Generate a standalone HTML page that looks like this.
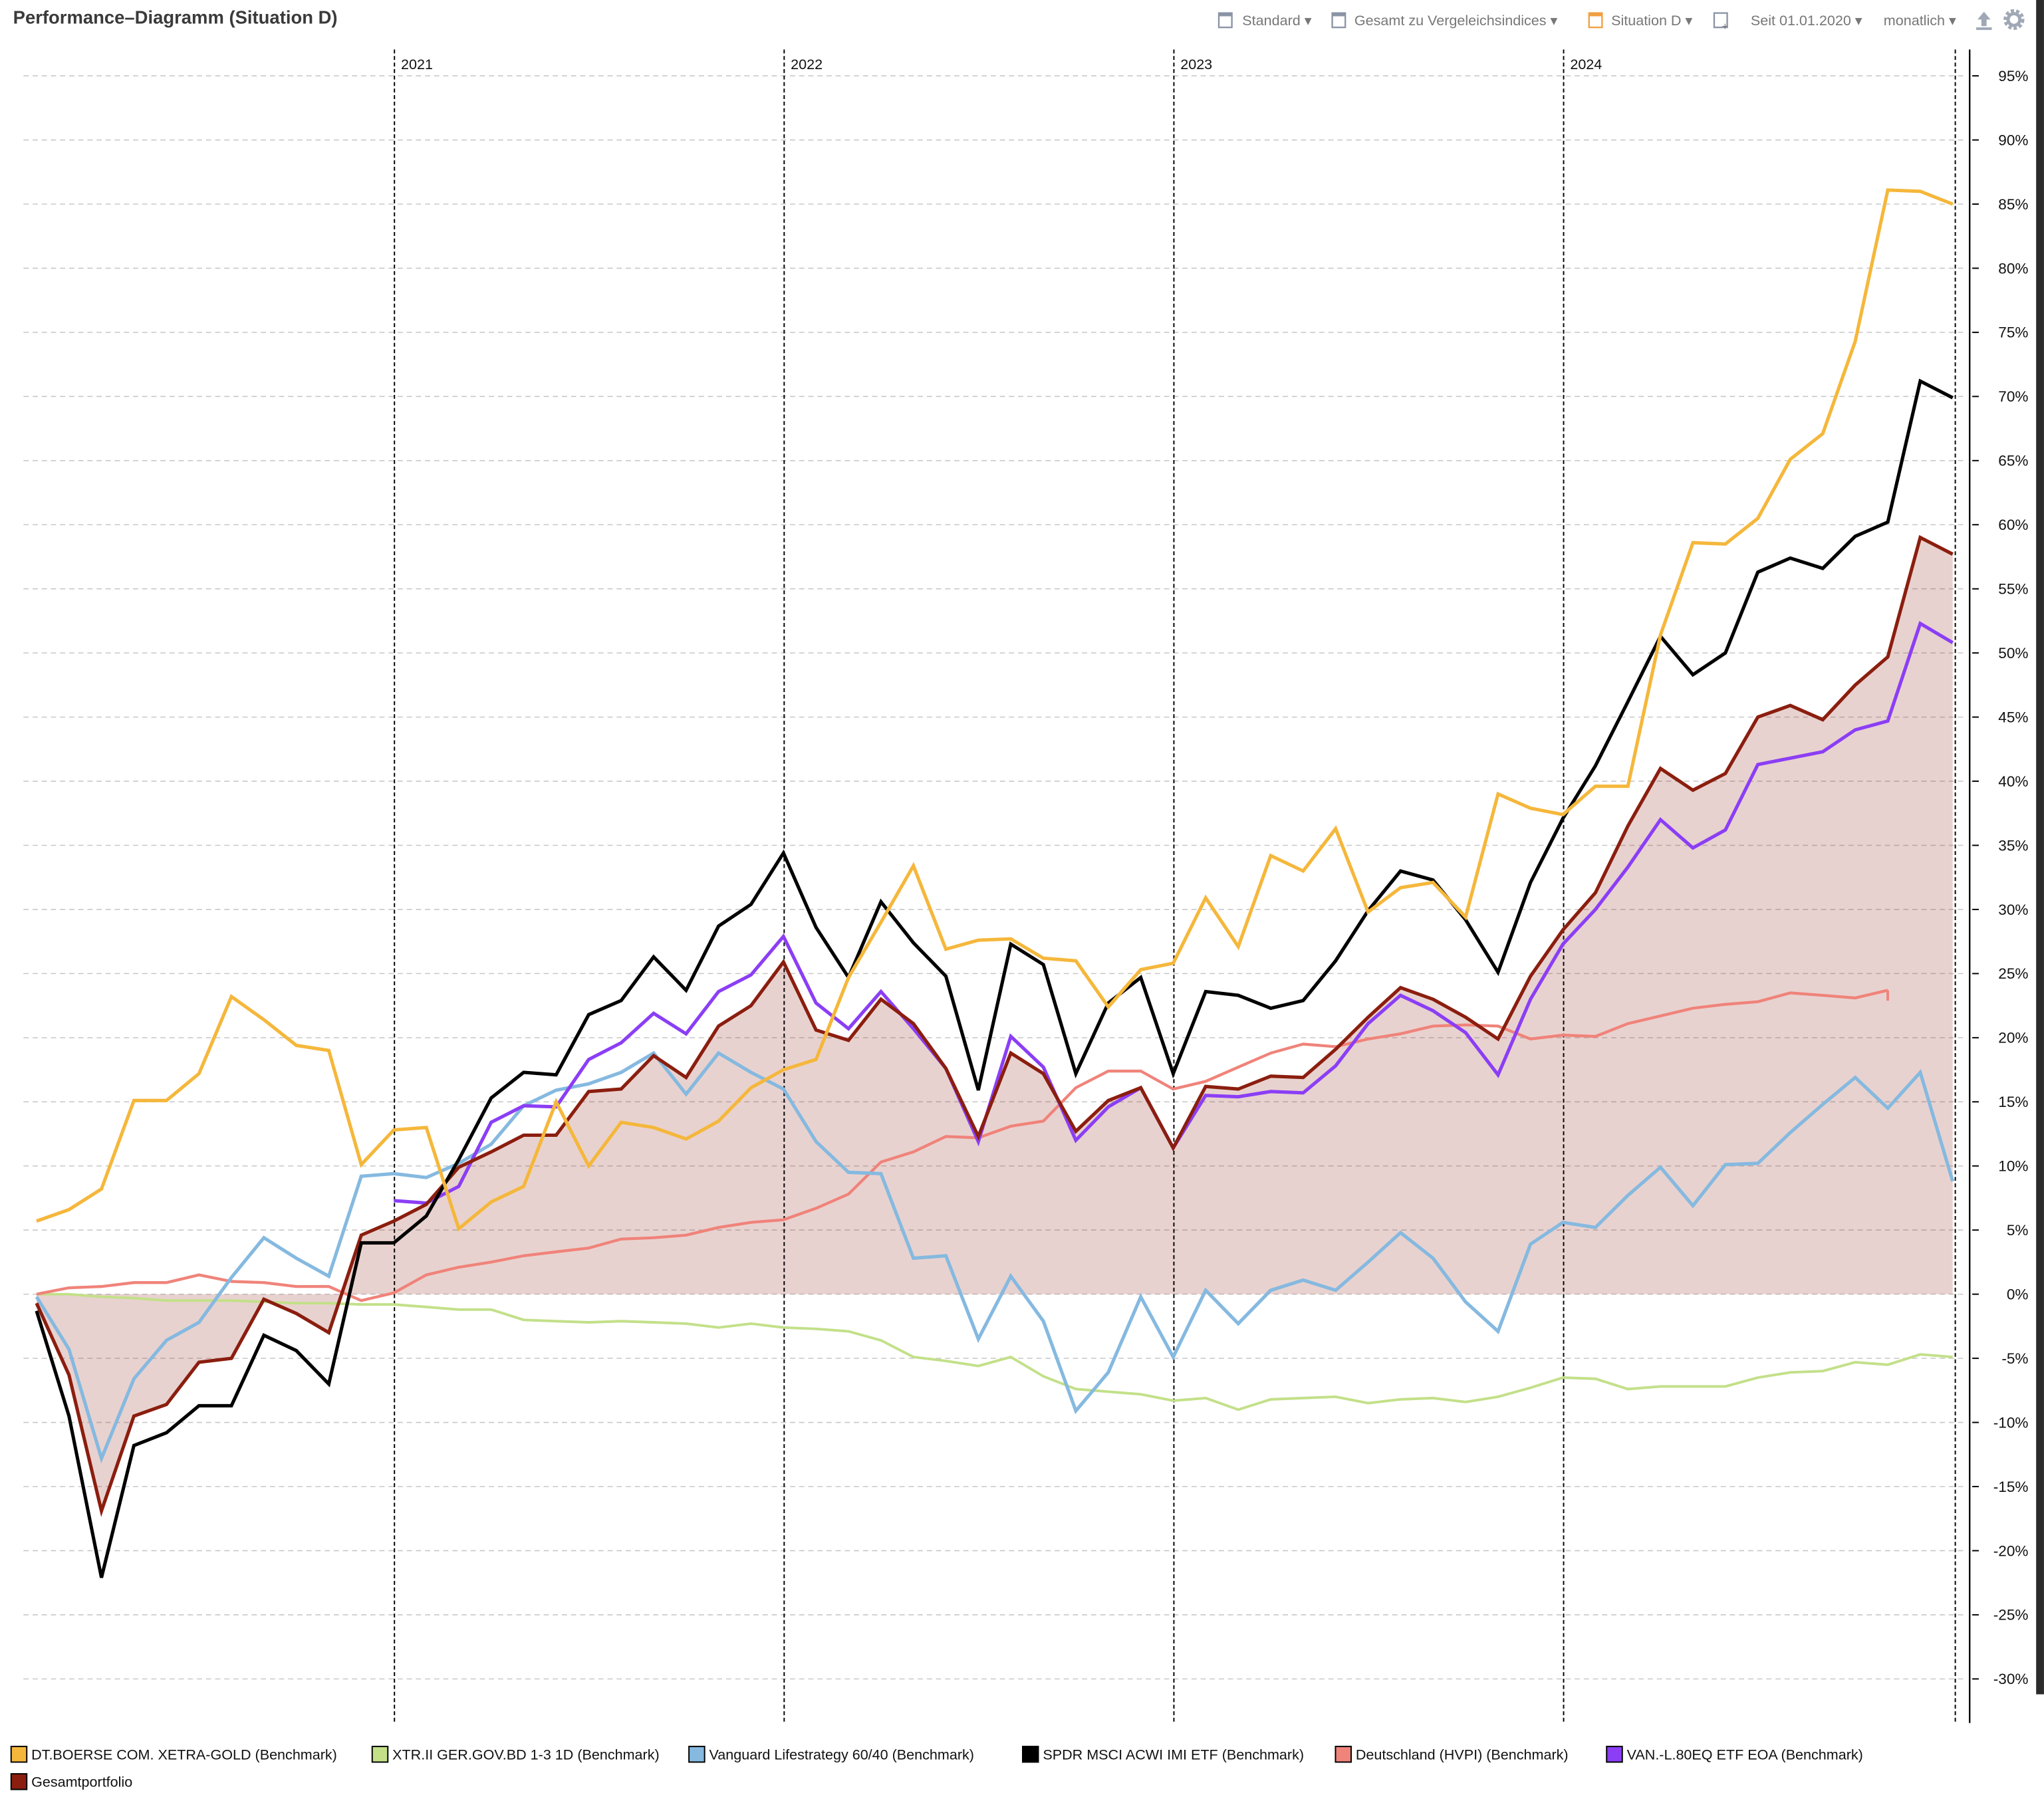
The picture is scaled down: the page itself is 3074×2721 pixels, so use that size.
<!DOCTYPE html>
<html><head><meta charset="utf-8"><style>
html,body{margin:0;padding:0;background:#fff;}
svg{display:block;font-family:"Liberation Sans",sans-serif;}
</style></head><body>
<svg id="chart" width="3074" height="2721" viewBox="0 0 1568 1388" xmlns="http://www.w3.org/2000/svg">
<rect x="1562" y="0" width="6" height="1300" fill="#2b2b2b"/>
<text x="10" y="18" font-size="14" font-weight="bold" fill="#3a3a3a">Performance–Diagramm (Situation D)</text>
<g font-size="11" fill="#777">
 <g><rect x="935" y="10" width="10" height="11" fill="none" stroke="#8a94a6" stroke-width="1.2"/><rect x="935" y="10" width="10" height="2.5" fill="#8a94a6"/><text x="953" y="19.5">Standard ▾</text></g>
 <g><rect x="1022" y="10" width="10" height="11" fill="none" stroke="#8a94a6" stroke-width="1.2"/><rect x="1022" y="10" width="10" height="2.5" fill="#8a94a6"/><text x="1039" y="19.5">Gesamt zu Vergeleichsindices ▾</text></g>
 <g><rect x="1219" y="10" width="10" height="11" fill="none" stroke="#f0a040" stroke-width="1.2"/><rect x="1219" y="10" width="10" height="2.5" fill="#f0a040"/><text x="1236" y="19.5">Situation D ▾</text></g>
 <g><rect x="1315" y="10" width="10" height="11" fill="none" stroke="#8a94a6" stroke-width="1.2"/><text x="1321" y="23" font-size="8">+</text></g>
 <text x="1343" y="19.5">Seit 01.01.2020 ▾</text>
 <text x="1445" y="19.5">monatlich ▾</text>
 <g><path d="M1517 15 l5 -6 l5 6 h-3 v5 h-4 v-5 z" fill="#a0a8b6"/><rect x="1516" y="21" width="12" height="2" fill="#a0a8b6"/></g>
 <g><circle cx="1545" cy="15" r="6" fill="none" stroke="#a0a8b6" stroke-width="4" stroke-dasharray="2.2 1.5"/><circle cx="1545" cy="15" r="4.5" fill="none" stroke="#a0a8b6" stroke-width="2.5"/></g>
</g>
<g id="grid"></g>
<g id="fill"></g>
<g id="years"></g>
<g id="series"></g>
<g id="axis"></g>
<g id="legend" font-size="11" fill="#111"></g>
<script>
const NS="http://www.w3.org/2000/svg";
const months=60;
const yTicks=[95,90,85,80,75,70,65,60,55,50,45,40,35,30,25,20,15,10,5,0,-5,-10,-15,-20,-25,-30];
const yearLabels=["2021","2022","2023","2024"];
const yearIndex=[11,23,35,47];
const gold=[5.7,6.6,8.2,15.1,15.1,17.2,23.2,21.4,19.4,19.0,10.1,12.8,13.0,5.1,7.2,8.4,15.0,10.0,13.4,13.0,12.1,13.5,16.1,17.5,18.3,24.7,29.0,33.4,26.9,27.6,27.7,26.2,26.0,22.4,25.3,25.8,30.9,27.1,34.2,33.0,36.3,29.8,31.7,32.1,29.4,39.0,37.9,37.4,39.6,39.6,51.4,58.6,58.5,60.5,65.1,67.1,74.3,86.1,86.0,85.0];
const bonds=[0,0,-0.2,-0.3,-0.5,-0.5,-0.5,-0.6,-0.7,-0.7,-0.8,-0.8,-1.0,-1.2,-1.2,-2.0,-2.1,-2.2,-2.1,-2.2,-2.3,-2.6,-2.3,-2.6,-2.7,-2.9,-3.6,-4.9,-5.2,-5.6,-4.9,-6.4,-7.4,-7.6,-7.8,-8.3,-8.1,-9.0,-8.2,-8.1,-8.0,-8.5,-8.2,-8.1,-8.4,-8.0,-7.3,-6.5,-6.6,-7.4,-7.2,-7.2,-7.2,-6.5,-6.1,-6.0,-5.3,-5.5,-4.7,-4.9];
const vanguard=[-0.2,-4.3,-12.8,-6.6,-3.6,-2.2,1.3,4.4,2.8,1.4,9.2,9.4,9.1,10.2,11.7,14.7,15.9,16.4,17.3,18.8,15.6,18.8,17.3,16.0,11.9,9.5,9.4,2.8,3.0,-3.5,1.4,-2.1,-9.1,-6.1,-0.2,-4.9,0.3,-2.3,0.3,1.1,0.3,2.5,4.8,2.8,-0.6,-2.9,3.9,5.6,5.2,7.7,9.9,6.9,10.1,10.2,12.6,14.8,16.9,14.5,17.3,8.8];
const acwi=[-1.3,-9.5,-22.1,-11.8,-10.8,-8.7,-8.7,-3.2,-4.4,-7.0,4.0,4.0,6.1,10.5,15.3,17.3,17.1,21.8,22.9,26.3,23.7,28.7,30.4,34.4,28.6,24.7,30.6,27.4,24.8,15.9,27.3,25.7,17.2,22.7,24.7,17.2,23.6,23.3,22.3,22.9,26.0,29.9,33.0,32.3,29.2,25.1,32.1,37.1,41.2,46.2,51.3,48.3,50.0,56.3,57.4,56.6,59.1,60.2,71.2,69.9];
const hvpi=[0,0.5,0.6,0.9,0.9,1.5,1.0,0.9,0.6,0.6,-0.5,0.1,1.5,2.1,2.5,3.0,3.3,3.6,4.3,4.4,4.6,5.2,5.6,5.8,6.7,7.8,10.3,11.1,12.3,12.2,13.1,13.5,16.1,17.4,17.4,16.0,16.6,17.7,18.8,19.5,19.3,19.9,20.3,20.9,21.0,20.9,19.9,20.2,20.1,21.1,21.7,22.3,22.6,22.8,23.5,23.3,23.1,23.7,null,null];
const van80=[null,null,null,null,null,null,null,null,null,null,null,7.3,7.1,8.4,13.4,14.7,14.6,18.3,19.6,21.9,20.3,23.6,24.9,27.9,22.7,20.7,23.6,20.7,17.6,11.9,20.1,17.7,12.0,14.6,16.1,11.4,15.5,15.4,15.8,15.7,17.8,21.1,23.3,22.1,20.4,17.1,23.0,27.3,30.0,33.3,37.0,34.8,36.2,41.3,41.8,42.3,44.0,44.7,52.3,50.8];
const gesamt=[-0.7,-6.3,-16.9,-9.5,-8.6,-5.3,-5.0,-0.4,-1.5,-3.0,4.6,5.7,7.0,9.9,11.1,12.4,12.4,15.8,16.0,18.6,16.9,20.9,22.5,25.9,20.6,19.8,23.0,21.1,17.6,12.3,18.8,17.2,12.7,15.1,16.1,11.4,16.2,16.0,17.0,16.9,19.1,21.6,23.9,23.0,21.6,19.9,24.8,28.4,31.3,36.5,41.0,39.3,40.6,45.0,45.9,44.8,47.5,49.7,59.0,57.7];
const legendLabels=["DT.BOERSE COM. XETRA-GOLD (Benchmark)","XTR.II GER.GOV.BD 1-3 1D (Benchmark)","Vanguard Lifestrategy 60/40 (Benchmark)","SPDR MSCI ACWI IMI ETF (Benchmark)","Deutschland (HVPI) (Benchmark)","VAN.-L.80EQ ETF EOA (Benchmark)","Gesamtportfolio"];

const X0=28, DX=24.915, Y0=993, DY=9.84;
function xs(i){return X0+DX*i;}
function ys(v){return Y0-v*DY;}
function mk(tag,attrs,parent){const e=document.createElementNS(NS,tag);for(const k in attrs)e.setAttribute(k,attrs[k]);parent.appendChild(e);return e;}

const grid=document.getElementById('grid');
const axis=document.getElementById('axis');
yTicks.forEach(t=>{
  const l=mk('line',{x1:18,x2:1506,y1:ys(t),y2:ys(t),stroke:'#c8c8c8','stroke-width':0.8,'stroke-dasharray':'4 3'},grid);
  
  
  const tk=mk('line',{x1:1513,x2:1518,y1:ys(t),y2:ys(t),stroke:'#000','stroke-width':1},axis);
  
  
  const tx=mk('text',{x:1556,y:ys(t)+4,'font-size':11.5,'text-anchor':'end',fill:'#111'},axis);
  tx.textContent=t+'%';
  
  
});
const ax=mk('line',{x1:1511,x2:1511,y1:38,y2:1322,stroke:'#000','stroke-width':1.2},axis);



const years=document.getElementById('years');
yearIndex.forEach((ix,k)=>{
  const x=xs(ix)+0.5;
  const l=mk('line',{x1:x,x2:x,y1:38,y2:1322,stroke:'#000','stroke-width':1,'stroke-dasharray':'3 2'},years);
  
  
  const t=mk('text',{x:x+5,y:53,'font-size':11,fill:'#111'},years);
  t.textContent=yearLabels[k];
  
  
});
const endL=mk('line',{x1:xs(59)+2,x2:xs(59)+2,y1:38,y2:1322,stroke:'#000','stroke-width':1,'stroke-dasharray':'3 2'},years);



// fill
let fd='M'+xs(0)+','+ys(0);
gesamt.forEach((v,i)=>{fd+=' L'+xs(i)+','+ys(v);});
fd+=' L'+xs(59)+','+ys(0)+' Z';
const fillP=mk('path',{d:fd,fill:'rgba(139,30,15,0.2)'},document.getElementById('fill'));



function pathOf(arr){let d='',pen=false;arr.forEach((v,i)=>{if(v===null){pen=false;return;}d+=(pen?' L':' M')+xs(i).toFixed(1)+','+ys(v).toFixed(1);pen=true;});return d;}
const ser=document.getElementById('series');
const defs=[
 [bonds,'#c3e089',2,'bonds-line'],
 [hvpi,'#f0837a',2.2,'hvpi-line'],
 [vanguard,'#85b9e0',2.6,'vanguard-line'],
 [van80,'#8b3ef5',2.6,'van80-line'],
 [gesamt,'#8b1e0f',2.6,'gesamtportfolio-line'],
 [acwi,'#000000',2.6,'acwi-line'],
 [gold,'#f5b73b',2.6,'gold-line']
];
defs.forEach(d=>{
  const p=mk('path',{d:pathOf(d[0]),fill:'none',stroke:d[1],'stroke-width':d[2],'stroke-linejoin':'miter'},ser);
  
  
});
// HVPI end hook
const hk=mk('line',{x1:xs(57),x2:xs(57),y1:ys(hvpi[57]),y2:ys(hvpi[57])+8,stroke:'#f0837a','stroke-width':2},ser);



// legend
const legColors=['#f5b73b','#c3e089','#85b9e0','#000000','#f0837a','#8b3ef5','#8b1e0f'];
const legX=[8,285,528,784,1024,1232,8];
const legY=[1346,1346,1346,1346,1346,1346,1367];
const lg=document.getElementById('legend');
legendLabels.forEach((s,i)=>{
  const g=mk('g',{},lg);
  
  
  mk('rect',{x:legX[i]+0.5,y:legY[i]-6,width:12,height:12,fill:legColors[i],stroke:'#000','stroke-width':1},g);
  const t=mk('text',{x:legX[i]+16,y:legY[i]+4},g);
  t.textContent=s;
});
</script>
</svg>
</body></html>
